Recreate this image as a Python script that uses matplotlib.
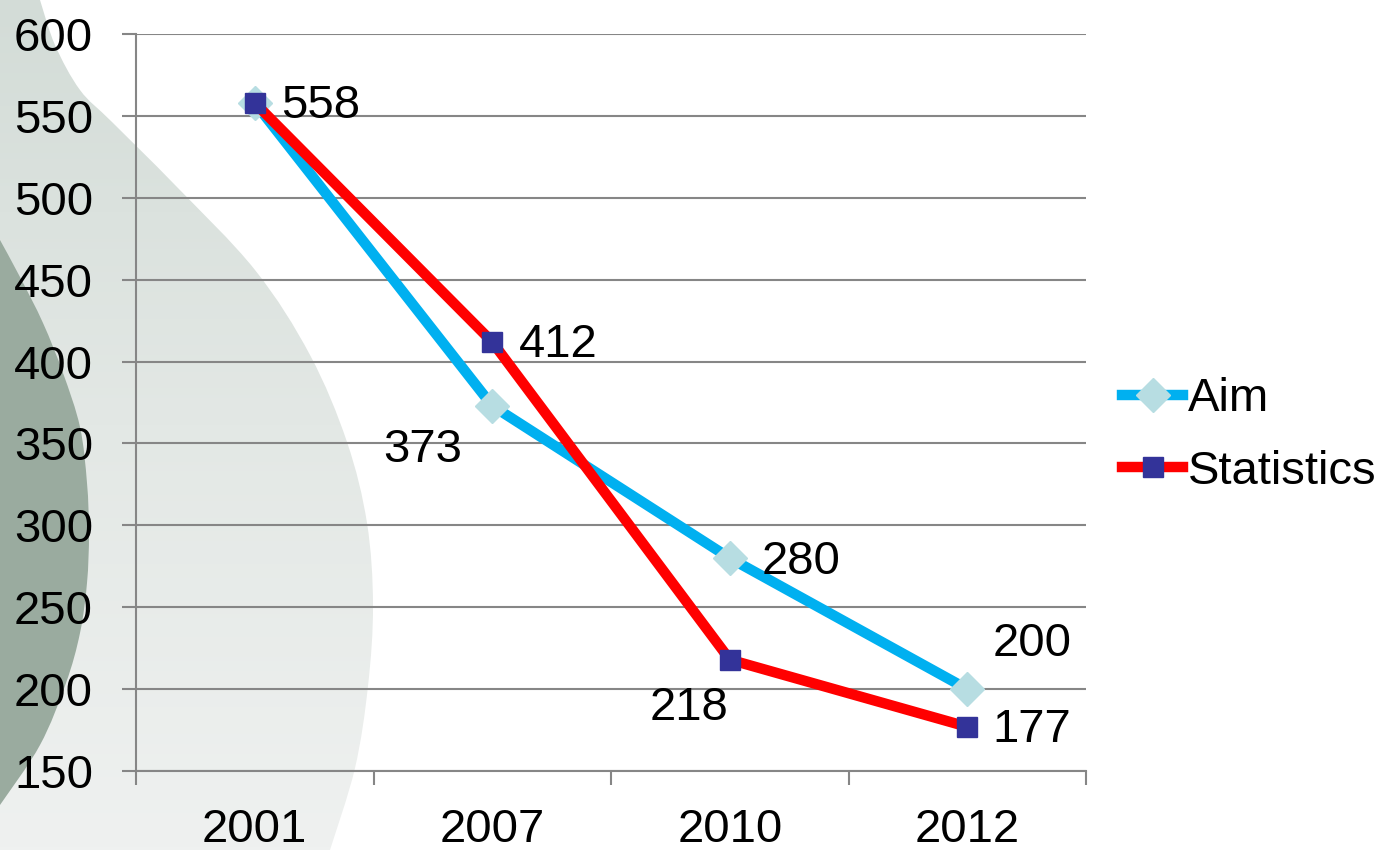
import numpy as np
import matplotlib.pyplot as plt
from matplotlib.path import Path
from matplotlib.patches import PathPatch
from matplotlib.colors import LinearSegmentedColormap

# === Data === #
years = ["2001", "2007", "2010", "2012"]
aim = [558, 373, 280, 200]
statistics = [558, 412, 218, 177]

plt.rcParams['font.family'] = ['Liberation Sans', 'DejaVu Sans']

W, H = 1382, 850
fig = plt.figure(figsize=(W / 100, H / 100), dpi=100)
fig.patch.set_facecolor("white")


def smooth_path(pts, close_pts):
    # Catmull-Rom through pts -> cubic bezier path, closed via close_pts
    pts = np.asarray(pts, float)
    verts = [tuple(pts[0])]
    codes = [Path.MOVETO]
    n = len(pts)
    for i in range(n - 1):
        p0 = pts[max(i - 1, 0)]
        p1, p2 = pts[i], pts[i + 1]
        p3 = pts[min(i + 2, n - 1)]
        verts += [tuple(p1 + (p2 - p0) / 6), tuple(p2 - (p3 - p1) / 6), tuple(p2)]
        codes += [Path.CURVE4] * 3
    for p in close_pts:
        verts.append(p)
        codes.append(Path.LINETO)
    verts.append(tuple(pts[0]))
    codes.append(Path.CLOSEPOLY)
    return Path(verts, codes)


# === Background decoration (pixel coords) === #
bg = fig.add_axes([0, 0, 1, 1], zorder=-1)
bg.set_xlim(0, W)
bg.set_ylim(H, 0)
bg.axis("off")

light_edge = [(40, 0), (55, 45), (80, 90), (112, 122), (175, 185), (255, 270),
              (310, 355), (347, 442), (367, 523), (373, 605), (368, 686),
              (355, 768), (330, 850)]
light = PathPatch(smooth_path(light_edge, [(0, 850), (0, 0)]),
                  facecolor="none", edgecolor="none")
bg.add_patch(light)
grad = np.linspace(0, 1, 256).reshape(-1, 1)
cmap = LinearSegmentedColormap.from_list("bgl", ["#d3dcd7", "#e3e8e5", "#eff1f0"])
im = bg.imshow(grad, cmap=cmap, extent=(0, 400, H, 0), aspect="auto", zorder=1)
im.set_clip_path(light)

dark_edge = [(0, 240), (20, 277), (43, 323), (63, 373), (80, 427), (87, 483),
             (89, 533), (87, 583), (80, 633), (66, 683), (40, 745), (0, 805)]
dark = PathPatch(smooth_path(dark_edge, []), facecolor="#9aab9f",
                 edgecolor="none", zorder=2)
bg.add_patch(dark)

# === Axes === #
ax = fig.add_axes([136 / W, 1 - 771 / H, (1086 - 136) / W, (771 - 34) / H], zorder=1)
ax.set_facecolor("none")

x = list(range(len(years)))
ax.plot(x, aim, color="#00b0f0", lw=7.5, marker="D", ms=17,
        mfc="#b7dde2", mec="#b7dde2", label="Aim", zorder=3)
ax.plot(x, statistics, color="#ff0000", lw=7.5, marker="s", ms=14,
        mfc="#333399", mec="#333399", label="Statistics", zorder=4)

ax.set_xlim(-0.5, 3.5)
ax.set_ylim(150, 600)
ax.set_yticks(range(150, 601, 50))
ax.set_xticks(x)
ax.set_xticklabels(years)
ax.set_xticks([-0.5, 0.5, 1.5, 2.5, 3.5], minor=True)

ax.grid(axis="y", color="#868686", lw=1.5)
ax.set_axisbelow(True)
for s in ["top", "right"]:
    ax.spines[s].set_visible(False)
for s in ["left", "bottom"]:
    ax.spines[s].set_color("#868686")
    ax.spines[s].set_linewidth(1.5)

fs = 34
ax.tick_params(axis="y", length=10, width=1.5, color="#868686",
               labelsize=fs, pad=21)
ax.tick_params(axis="x", which="major", length=0, labelsize=fs, pad=27)
ax.tick_params(axis="x", which="minor", length=10, width=1.5, color="#868686")

# === Data labels === #
labels = [
    ("558", 0, 558, 19, -2.5, "left"),
    ("412", 1, 412, 19, -2.5, "left"),
    ("373", 1, 373, -50, -31.5, "center"),
    ("280", 2, 280, 23, -2.5, "left"),
    ("200", 3, 200, 18, 32.5, "left"),
    ("218", 2, 218, -29, -34.5, "center"),
    ("177", 3, 177, 18, -2.5, "left"),
]
for txt, xi, yi, dx, dy, ha in labels:
    ax.annotate(txt, (xi, yi), xytext=(dx, dy), textcoords="offset points",
                ha=ha, va="center", fontsize=fs)

ax.legend(loc="center left", bbox_to_anchor=(1.038, 0.455), frameon=False,
          fontsize=fs, handlelength=1.3, handletextpad=0.1,
          labelspacing=0.6, borderaxespad=0, borderpad=0)

fig.savefig("out.png", dpi=100)
